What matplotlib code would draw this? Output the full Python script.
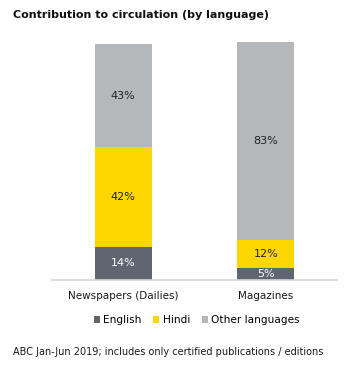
import matplotlib
matplotlib.use('Agg')
import matplotlib.pyplot as plt
import numpy as np

categories = ["Newspapers (Dailies)", "Magazines"]
languages = ["English", "Hindi", "Other languages"]
english = [14, 5]
hindi = [42, 12]
other = [43, 83]
colors = ['#5e6670', '#ffd700', '#b5b8bb']
label_colors = ['white', '#222222', '#222222']

plt.rcParams['font.family'] = ['DejaVu Sans']

fig = plt.figure(figsize=(3.53, 3.67), dpi=100)
ax = fig.add_axes([0.1473, 0.2371, 0.8074, 0.6485])

x = np.arange(len(categories))
w = 0.4
bottom = np.zeros(len(categories))
for vals, name, c, tc in zip([english, hindi, other], languages, colors, label_colors):
    bars = ax.bar(x, vals, w, bottom=bottom, color=c, label=name)
    for xi, b, v in zip(x, bottom, vals):
        ax.text(xi, b + v / 2, f'{v}%', ha='center', va='center',
                fontsize=8, color=tc)
    bottom += vals

ax.set_xlim(-0.5, 1.5)
ax.set_ylim(0, 100)
ax.set_xticks(x)
ax.set_xticklabels(categories, fontsize=7.5, color='#1a1a1a')
ax.tick_params(axis='x', length=0, pad=8)
ax.set_yticks([])
for s in ['top', 'right', 'left']:
    ax.spines[s].set_visible(False)
ax.spines['bottom'].set_color('#d3d6d8')
ax.spines['bottom'].set_linewidth(1.2)

fig.text(0.037, 0.958, 'Contribution to circulation (by language)',
         fontsize=8, fontweight='bold', ha='left', va='center', color='#111111')

fig.legend(loc='center', bbox_to_anchor=(0.557, 0.128), ncol=3, frameon=False,
           fontsize=7.6, handlelength=0.6, handleheight=0.6, handletextpad=0.3,
           columnspacing=1.1, borderaxespad=0)

fig.text(0.037, 0.04, 'ABC Jan-Jun 2019; includes only certified publications / editions',
         fontsize=7, ha='left', va='center', color='#1a1a1a')

plt.savefig('out.png', dpi=100)
